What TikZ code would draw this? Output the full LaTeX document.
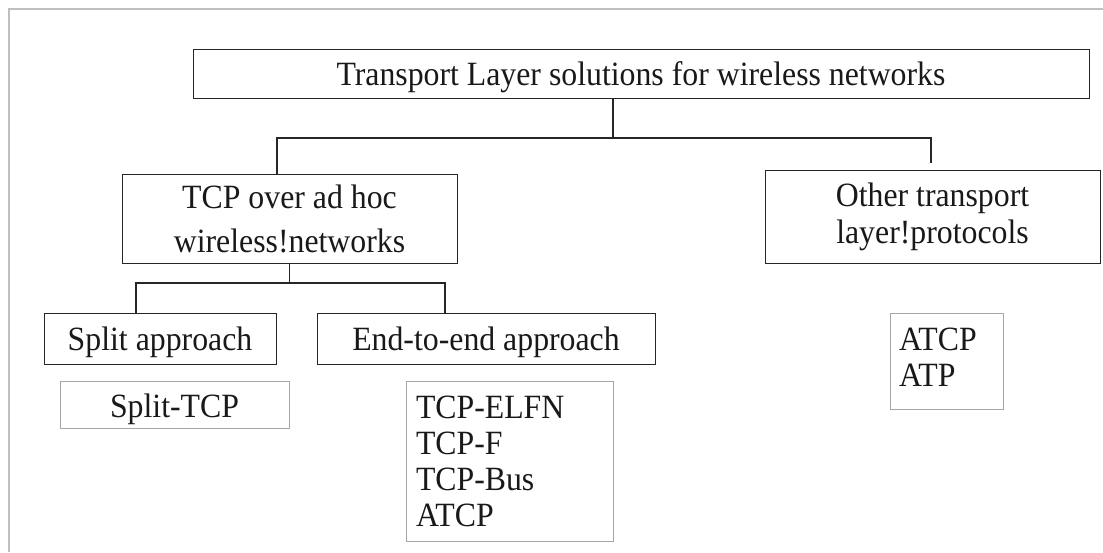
\documentclass[tikz,border=0pt]{standalone}
\usepackage{fontspec}
\setmainfont[FakeStretch=0.935]{Liberation Serif}
\begin{document}
\begin{tikzpicture}[
x=1pt,y=-1pt,
MainBox/.style={draw=black!85,line width=0.9pt,inner sep=0pt,align=center,
  execute at begin node={\rule{0pt}{32pt}}},
LeafBox/.style={draw=black!35,line width=0.9pt,inner sep=0pt},
Links/.style={draw=black!85,line width=1.4pt},
FrameLine/.style={draw=black!25,line width=1.8pt},
every node/.style={text=black!90,font=\fontsize{34}{38}\selectfont}
]
\useasboundingbox (0,0) rectangle (1103,552);
\draw[FrameLine] (9,552) -- (9,9) -- (1103,9);

% top level
\node[MainBox,minimum width=896,minimum height=49] (transport) at (641,73.5)
  {Transport Layer solutions for wireless networks};

% second level
\node[MainBox,minimum width=335,minimum height=89] (tcp) at (289.5,218.5)
  {TCP over ad hoc\\[6pt]wireless!networks};
\node[MainBox,minimum width=335,minimum height=93] (other) at (932.5,216.5)
  {Other transport\\[-1pt]layer!protocols};

% approaches
\node[MainBox,minimum width=232,minimum height=51] (split) at (160,338.5) {Split approach};
\node[MainBox,minimum width=338,minimum height=51] (endtoend) at (486,338.5) {End-to-end approach};

% protocol lists
\node[LeafBox,minimum width=229,minimum height=47,
  execute at begin node={\rule{0pt}{33pt}}] (splitlist) at (174.5,404.5) {Split-TCP};
\node[LeafBox,inner xsep=10pt,text width=187,minimum height=160,align=left,
  font=\fontsize{34}{36}\selectfont] (e2elist) at (509.5,461)
  {TCP-ELFN\\TCP-F\\TCP-Bus\\ATCP};
\node[LeafBox,inner xsep=9pt,text width=95,minimum height=96,align=left,
  font=\fontsize{34}{36}\selectfont] (otherlist) at (946.5,361)
  {ATCP\\ATP\rule[-8pt]{0pt}{0pt}};

% bus lines
\coordinate (topbus) at (613,138);
\coordinate (busL) at (277,138);
\coordinate (busR) at (931,138);
\coordinate (busRend) at (931,163);
\draw[Links] (transport.south -| topbus) -- (topbus);
\draw[Links] (tcp.north -| busL) -- (busL) -- (busR) -- (busRend);

\coordinate (subL) at (136,283);
\coordinate (subR) at (445,283);
\draw[Links] (tcp.south) -- (tcp.south |- subL);
\draw[Links] (split.north -| subL) -- (subL) -- (subR) -- (endtoend.north -| subR);

\end{tikzpicture}
\end{document}
